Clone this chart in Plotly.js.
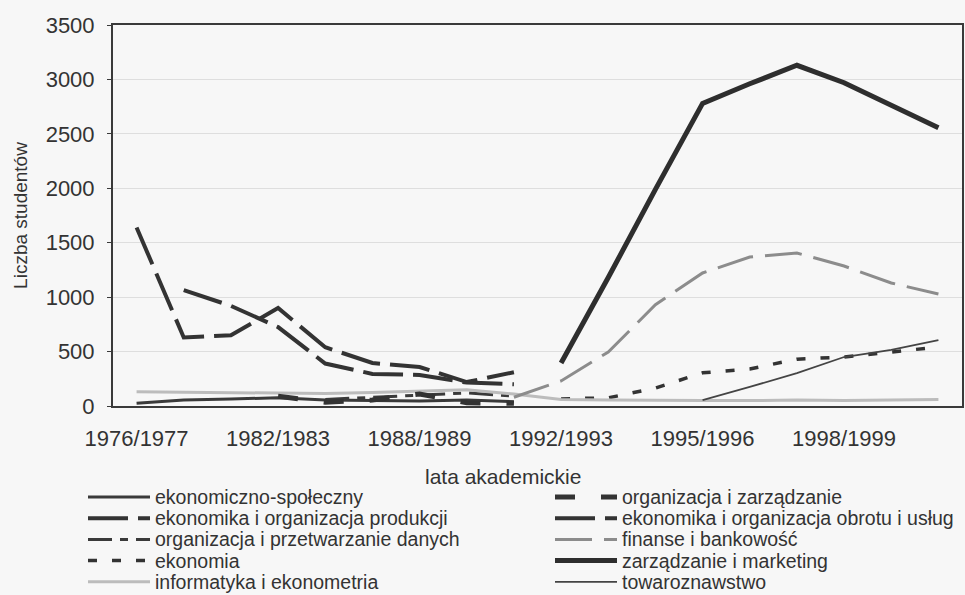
<!DOCTYPE html>
<html>
<head>
<meta charset="utf-8">
<script src="https://cdn.plot.ly/plotly-3.0.1.min.js"></script>
<style>
  html, body { margin: 0; padding: 0; background: #f7f7f7; }
  #chart { width: 965px; height: 595px; }
</style>
</head>
<body>
<div id="chart"></div>
<script>
// Academic years (categories) - only every third one is labelled
const years = ['1976/1977','1978/1979','1980/1981','1982/1983','1984/1985','1986/1987',
  '1988/1989','1990/1991','1991/1992','1992/1993','1993/1994','1994/1995',
  '1995/1996','1996/1997','1997/1998','1998/1999','1999/2000','2000/2001'];
const tickYears = ['1976/1977','1982/1983','1988/1989','1992/1993','1995/1996','1998/1999'];

// Number of students per field of study
const ekonomicznoSpoleczny = [25, 55, 65, 75, 55, 50, 45, 55, 40, null, null, null, null, null, null, null, null, null];
const ekonomikaProdukcji   = [1640, 630, 650, 900, 540, 395, 358, 220, 310, null, null, null, null, null, null, null, null, null];
const przetwarzanieDanych  = [null, null, null, null, 60, 80, 100, 120, 90, null, null, null, null, null, null, null, null, null];
const ekonomia             = [null, null, null, null, null, null, null, null, null, 65, 75, 165, 305, 340, 430, 450, 496, 542];
const informatyka          = [130, 125, 120, 115, 115, 125, 140, 150, 110, 60, 55, 50, 50, 50, 55, 50, 55, 60];
const organizacjaZarz      = [null, null, null, 90, 35, 55, 110, 30, 25, null, null, null, null, null, null, null, null, null];
const ekonomikaObrotu      = [null, 1065, 920, 725, 390, 295, 285, 215, 200, null, null, null, null, null, null, null, null, null];
const finanse              = [null, null, null, null, null, null, null, null, 80, 230, 496, 930, 1222, 1369, 1405, 1286, 1130, 1029];
const zarzadzanieMarketing = [null, null, null, null, null, null, null, null, null, 395, 1180, 1990, 2780, 2960, 3130, 2970, 2765, 2555];
const towaroznawstwo       = [null, null, null, null, null, null, null, null, null, null, null, null, 55, 175, 303, 450, 515, 606];

const seriesNames = ['ekonomiczno-społeczny','ekonomika i organizacja produkcji','organizacja i przetwarzanie danych',
  'ekonomia','informatyka i ekonometria','organizacja i zarządzanie','ekonomika i organizacja obrotu i usług',
  'finanse i bankowość','zarządzanie i marketing','towaroznawstwo'];
const seriesValues = [ekonomicznoSpoleczny, ekonomikaProdukcji, przetwarzanieDanych, ekonomia, informatyka,
  organizacjaZarz, ekonomikaObrotu, finanse, zarzadzanieMarketing, towaroznawstwo];

const styles = [
  {color:'#3a3a3a', width:3,   dash:'solid'},
  {color:'#333333', width:4,   dash:'40px,10px'},
  {color:'#3a3a3a', width:3,   dash:'24px,8px,8px,8px'},
  {color:'#333333', width:3.5, dash:'9px,15px'},
  {color:'#bcbcbc', width:3,   dash:'solid'},
  {color:'#333333', width:5,   dash:'20px,26px'},
  {color:'#333333', width:4,   dash:'40px,10px'},
  {color:'#8c8c8c', width:3,   dash:'37px,12px'},
  {color:'#2e2e2e', width:5,   dash:'solid'},
  {color:'#444444', width:1.8, dash:'solid'}
];

const traces = seriesNames.map((n, i) => ({
  type: 'scatter', mode: 'lines', name: n, x: years, y: seriesValues[i],
  line: {color: styles[i].color, width: styles[i].width, dash: styles[i].dash},
  connectgaps: false, showlegend: false, hoverinfo: 'x+y+name'
}));

// pixel helpers for custom legend
const L = 113, R = 962, T = 25, B = 406;
const px = x => (x - L) / (R - L);
const py = y => (B - y) / (B - T);

const FONT = 'Liberation Sans, Arial, sans-serif';
const shapes = [];
const annotations = [];
const legendPos = [
  {col:0,row:0},{col:0,row:1},{col:0,row:2},{col:0,row:3},{col:0,row:4},
  {col:1,row:0},{col:1,row:1},{col:1,row:2},{col:1,row:3},{col:1,row:4}
];
legendPos.forEach((p, i) => {
  const yy = 497 + 21.2 * p.row;
  const x0 = p.col === 0 ? 88 : 555;
  const x1 = x0 + 62;
  shapes.push({type:'line', xref:'paper', yref:'paper', x0:px(x0), x1:px(x1), y0:py(yy), y1:py(yy),
    line:{color:styles[i].color, width:styles[i].width, dash:styles[i].dash}});
  annotations.push({xref:'paper', yref:'paper', x:px(x1 + 3), y:py(yy), xanchor:'left', yanchor:'middle',
    text: seriesNames[i], showarrow:false, font:{family:FONT, size:19.5, color:'#333'}});
});
annotations.push({xref:'paper', yref:'paper', x:px(503), y:py(476), xanchor:'center', yanchor:'middle',
  text:'lata akademickie', showarrow:false, font:{family:FONT, size:21, color:'#333'}});

const layout = {
  width: 965, height: 595,
  margin: {l: L, r: 965 - R, t: T, b: 595 - B},
  paper_bgcolor: '#f7f7f7', plot_bgcolor: '#f7f7f7',
  font: {family: FONT, color: '#333'},
  xaxis: {
    type: 'category', categoryorder: 'array', categoryarray: years,
    range: [-0.5, years.length - 0.5],
    tickmode: 'array', tickvals: tickYears, ticktext: tickYears,
    tickfont: {family: FONT, size: 22, color: '#333'},
    ticks: '', ticklabelstandoff: 12,
    showline: true, linecolor: '#3a3a3a', linewidth: 2, mirror: true,
    showgrid: false, zeroline: false
  },
  yaxis: {
    range: [0, 3500], dtick: 500, tick0: 0,
    tickfont: {family: FONT, size: 22, color: '#333'},
    ticks: 'outside', ticklen: 4, tickcolor: '#3a3a3a', ticklabelstandoff: 8,
    showline: true, linecolor: '#3a3a3a', linewidth: 2, mirror: true,
    showgrid: true, gridcolor: '#dedede', gridwidth: 1, zeroline: false,
    title: {text: 'Liczba studentów', font: {family: FONT, size: 19, color: '#333'}, standoff: 13}
  },
  shapes: shapes,
  annotations: annotations,
  showlegend: false
};

Plotly.newPlot('chart', traces, layout, {displayModeBar: false, staticPlot: true});
</script>
</body>
</html>
